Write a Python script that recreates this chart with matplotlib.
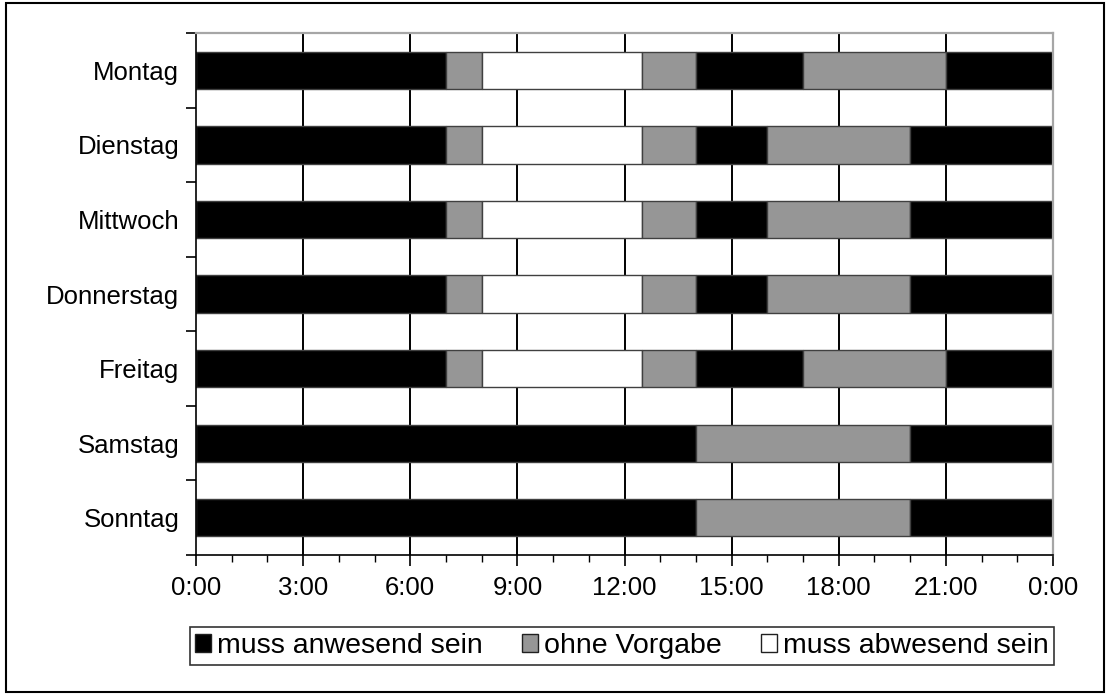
import numpy as np
import matplotlib
matplotlib.use("Agg")
import matplotlib.pyplot as plt
from matplotlib.patches import Patch, Rectangle

# --- Data ---
DAYS = ["Montag", "Dienstag", "Mittwoch", "Donnerstag", "Freitag", "Samstag", "Sonntag"]
STATUS_LABELS = ["muss anwesend sein", "ohne Vorgabe", "muss abwesend sein"]

# segment durations in hours, and the status of each segment (0, 1, 2 -> STATUS_LABELS)
WEEKDAY_A_HOURS = [7, 1, 4.5, 1.5, 3, 4, 3]
WEEKDAY_A_STATUS = [0, 1, 2, 1, 0, 1, 0]
WEEKDAY_B_HOURS = [7, 1, 4.5, 1.5, 2, 4, 4]
WEEKDAY_B_STATUS = [0, 1, 2, 1, 0, 1, 0]
WEEKEND_HOURS = [14, 6, 4]
WEEKEND_STATUS = [0, 1, 0]

DAY_HOURS = [WEEKDAY_A_HOURS, WEEKDAY_B_HOURS, WEEKDAY_B_HOURS, WEEKDAY_B_HOURS,
             WEEKDAY_A_HOURS, WEEKEND_HOURS, WEEKEND_HOURS]
DAY_STATUS = [WEEKDAY_A_STATUS, WEEKDAY_B_STATUS, WEEKDAY_B_STATUS, WEEKDAY_B_STATUS,
              WEEKDAY_A_STATUS, WEEKEND_STATUS, WEEKEND_STATUS]

X_TICKS = [0, 3, 6, 9, 12, 15, 18, 21, 24]
X_TICK_LABELS = ["0:00", "3:00", "6:00", "9:00", "12:00", "15:00", "18:00", "21:00", "0:00"]

# --- Style ---
STATUS_COLORS = ["#000000", "#969696", "#ffffff"]
EDGE_COLOR = "#404040"
FONT = "Liberation Sans"
TICK_FONT_SIZE = 18.5
LEGEND_FONT_SIZE = 20.5
BAR_HEIGHT = 0.5

plt.rcParams["font.family"] = [FONT, "DejaVu Sans"]

fig = plt.figure(figsize=(11.11, 6.98), dpi=100)
ax = fig.add_axes([196 / 1111, 1 - 555 / 698, (1053 - 196) / 1111, (555 - 33) / 698])

# vertical gridlines behind the bars
for x in X_TICKS[1:-1]:
    ax.axvline(x, color="black", lw=1.4, zorder=0)

for i, (hours, status) in enumerate(zip(DAY_HOURS, DAY_STATUS)):
    starts = np.concatenate([[0], np.cumsum(hours)[:-1]])
    ax.barh(i, hours, left=starts, height=BAR_HEIGHT,
            color=[STATUS_COLORS[s] for s in status],
            edgecolor=EDGE_COLOR, linewidth=1.0, zorder=2)

ax.set_xlim(0, 24)
ax.set_ylim(len(DAYS) - 0.5, -0.5)

# x axis
ax.set_xticks(X_TICKS)
ax.set_xticklabels(X_TICK_LABELS)
ax.set_xticks(np.arange(0, 25, 1), minor=True)
ax.tick_params(axis="x", which="major", direction="out", length=8, width=1.2, pad=7,
               labelsize=TICK_FONT_SIZE)
ax.tick_params(axis="x", which="minor", direction="out", length=5, width=1.0)

# y axis: labels at centers, tick marks between days
ax.set_yticks(np.arange(len(DAYS)), minor=True)
ax.set_yticklabels(DAYS, minor=True)
ax.set_yticks(np.arange(-0.5, len(DAYS) + 0.5, 1))
ax.set_yticklabels([])
ax.tick_params(axis="y", which="minor", length=0, pad=12, labelsize=TICK_FONT_SIZE)
ax.tick_params(axis="y", which="major", direction="out", length=7, width=1.2)

for side in ["left", "bottom"]:
    ax.spines[side].set_color("black")
    ax.spines[side].set_linewidth(1.2)
for side in ["top", "right"]:
    ax.spines[side].set_color("#a6a6a6")
    ax.spines[side].set_linewidth(1.6)

# legend
handles = [Patch(facecolor=c, edgecolor="#202020", linewidth=1.0) for c in STATUS_COLORS]
leg = fig.legend(handles, STATUS_LABELS, loc="center",
                 bbox_to_anchor=(622 / 1111, 1 - 646 / 698),
                 ncol=3, fontsize=LEGEND_FONT_SIZE, frameon=True, fancybox=False,
                 handlelength=0.55, handleheight=0.55, handletextpad=0.2,
                 columnspacing=1.4, borderpad=0.2, borderaxespad=0)
leg.get_frame().set_edgecolor("black")
leg.get_frame().set_linewidth(1.2)

# outer frame
fig.patches.append(Rectangle((6 / 1111, 1 - 692 / 698), 1098 / 1111, 689 / 698,
                             transform=fig.transFigure, fill=False,
                             edgecolor="black", linewidth=1.5))

fig.savefig("out.png", dpi=100)
